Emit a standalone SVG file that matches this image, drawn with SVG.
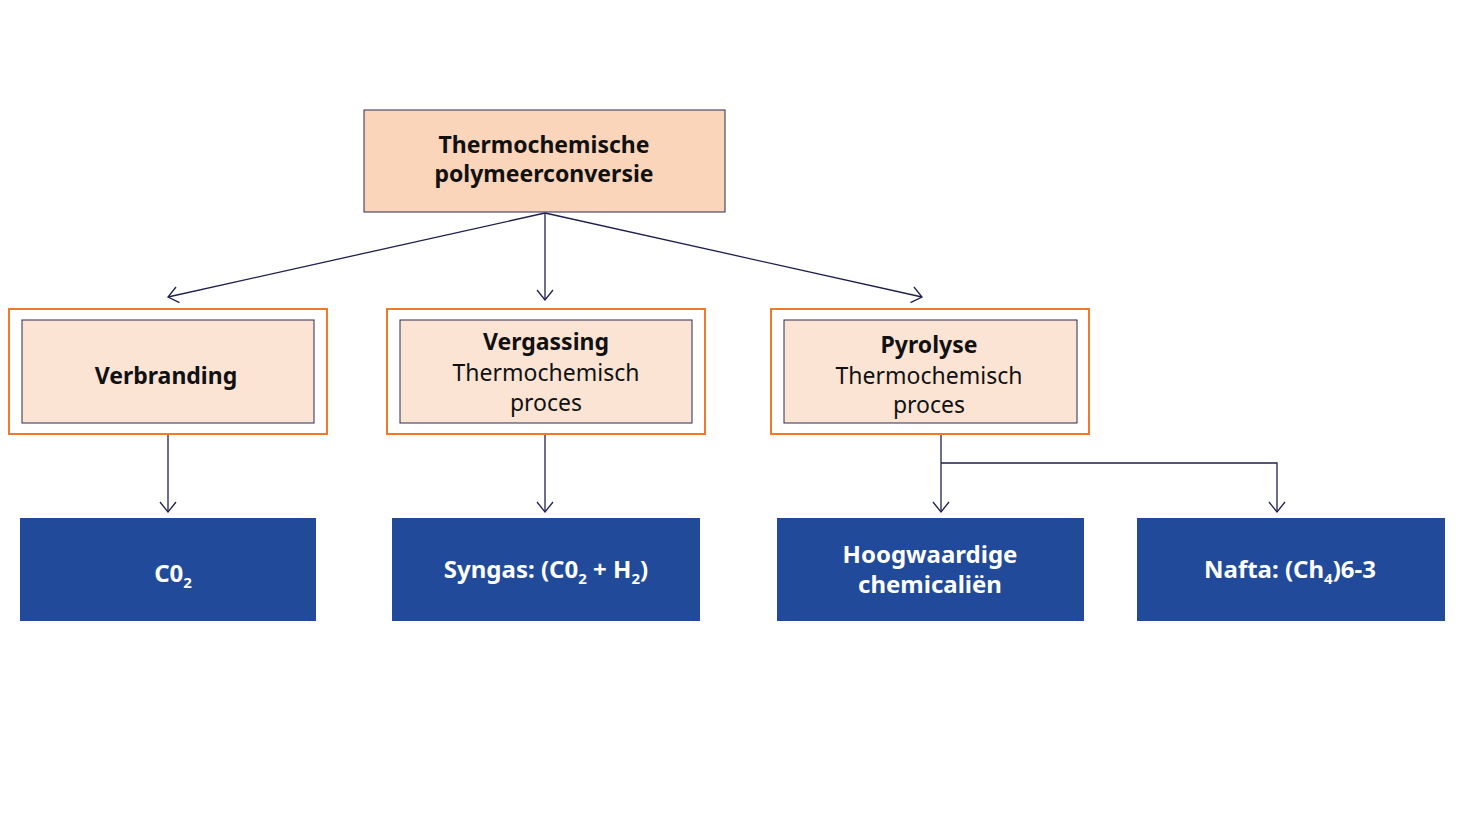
<svg xmlns="http://www.w3.org/2000/svg" width="1484" height="835" viewBox="0 0 1484 835">
<defs>
<marker id="arr" viewBox="0 0 12 20" refX="11" refY="10" markerWidth="12" markerHeight="20" markerUnits="userSpaceOnUse" orient="auto">
<path d="M1,2 L11,10 L1,18" fill="none" stroke="#1f1f4f" stroke-width="1.3"/>
</marker>
<style>
.top{fill:#fbd5ba;stroke:#2a2a55;stroke-width:1}
.outer{fill:#fff;stroke:#f07a2a;stroke-width:2}
.inner{fill:#fce4d5;stroke:#2a2a55;stroke-width:1}
.blue{fill:#214b9a}
.b{font-family:"Noto Sans","Open Sans",sans-serif;font-weight:bold;font-size:23px;fill:#111;text-anchor:middle}
.r{font-family:"Noto Sans","Open Sans",sans-serif;font-size:23px;fill:#111;text-anchor:middle}
.w{font-family:"Noto Sans","Open Sans",sans-serif;font-weight:bold;font-size:24px;fill:#fff;text-anchor:middle}
.sub{font-size:15px}
.c{fill:none;stroke:#1f1f4f;stroke-width:1.3}
</style>
</defs>
<g id="connectors">
<line class="c" x1="545" y1="213" x2="168" y2="297" marker-end="url(#arr)"/>
<line class="c" x1="545" y1="213" x2="545" y2="300" marker-end="url(#arr)"/>
<line class="c" x1="545" y1="213" x2="922" y2="297" marker-end="url(#arr)"/>
<line class="c" x1="168" y1="424" x2="168" y2="512" marker-end="url(#arr)"/>
<line class="c" x1="545" y1="424" x2="545" y2="512" marker-end="url(#arr)"/>
<line class="c" x1="941" y1="424" x2="941" y2="512" marker-end="url(#arr)"/>
<polyline class="c" points="941,463 1277,463 1277,512" marker-end="url(#arr)"/>
</g>
<g id="n-top">
<rect class="top" x="364" y="110" width="361" height="102"/>
<text class="b" x="544" y="153">Thermochemische</text>
<text class="b" x="544" y="182">polymeerconversie</text>
</g>
<g id="n-verbranding">
<rect class="outer" x="9" y="309" width="318" height="125"/>
<rect class="inner" x="22" y="320" width="292" height="103"/>
<text class="b" x="166" y="384">Verbranding</text>
</g>
<g id="n-vergassing">
<rect class="outer" x="387" y="309" width="318" height="125"/>
<rect class="inner" x="400" y="320" width="292" height="103"/>
<text class="b" x="546" y="350">Vergassing</text>
<text class="r" x="546" y="381">Thermochemisch</text>
<text class="r" x="546" y="411">proces</text>
</g>
<g id="n-pyrolyse">
<rect class="outer" x="771" y="309" width="318" height="125"/>
<rect class="inner" x="784" y="320" width="293" height="103"/>
<text class="b" x="929" y="353">Pyrolyse</text>
<text class="r" x="929" y="384">Thermochemisch</text>
<text class="r" x="929" y="413">proces</text>
</g>
<g id="n-co2">
<rect class="blue" x="20" y="518" width="296" height="103"/>
<text class="w" x="173" y="582">C0<tspan class="sub" dy="6">2</tspan></text>
</g>
<g id="n-syngas">
<rect class="blue" x="392" y="518" width="308" height="103"/>
<text class="w" x="546" y="578">Syngas: (C0<tspan class="sub" dy="6">2</tspan><tspan dy="-6"> + H</tspan><tspan class="sub" dy="6">2</tspan><tspan dy="-6">)</tspan></text>
</g>
<g id="n-hoog">
<rect class="blue" x="777" y="518" width="307" height="103"/>
<text class="w" x="930" y="563">Hoogwaardige</text>
<text class="w" x="930" y="593">chemicaliën</text>
</g>
<g id="n-nafta">
<rect class="blue" x="1137" y="518" width="308" height="103"/>
<text class="w" x="1290" y="578">Nafta: (Ch<tspan class="sub" dy="6">4</tspan><tspan dy="-6">)6-3</tspan></text>
</g>
</svg>
